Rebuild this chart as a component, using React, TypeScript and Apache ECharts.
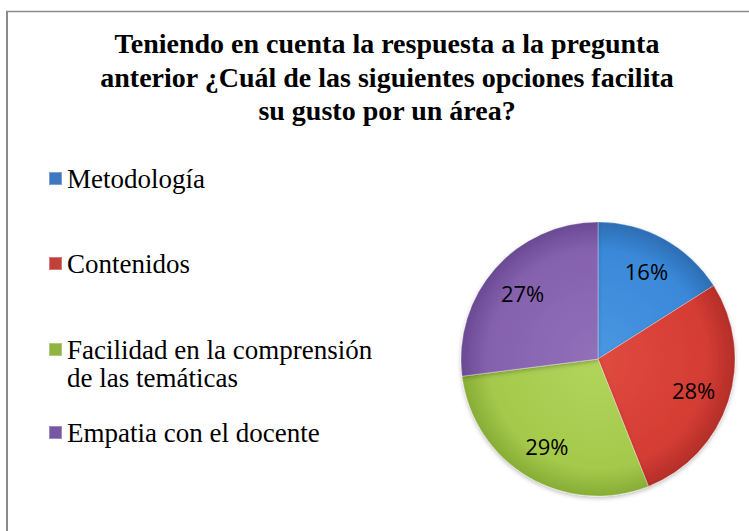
import React, { useEffect, useRef } from 'react';
import * as echarts from 'echarts';

const titleLines = [
  'Teniendo en cuenta la respuesta a la pregunta',
  'anterior ¿Cuál de las siguientes opciones facilita',
  'su gusto por un área?',
];
const categories = ['Metodología', 'Contenidos', 'Facilidad en la comprensión de las temáticas', 'Empatia con el docente'];
const legendLabels = ['Metodología', 'Contenidos', 'Facilidad en la comprensión', 'Empatia con el docente'];
const legendSecondLine = 'de las temáticas';
const values = [16, 28, 29, 27];
const baseColors = ['#3a88d8', '#d43c34', '#a4c94b', '#8561ae'];
const lightColors = ['#4a97e2', '#e04a40', '#b2d45c', '#9270b9'];
const edgeColors = ['#2c6db3', '#b32e28', '#88ad36', '#6a4a93'];
const legendColors = ['#3f78c0', '#c0413c', '#8fb443', '#7657a3'];

const CX = 598;
const CY = 359;
const R = 137;
const SERIF = 'Liberation Serif';

export default function App() {
  const ref = useRef<HTMLDivElement>(null);
  useEffect(() => {
    if (!ref.current) return;
    const chart = echarts.init(ref.current, null, { renderer: 'svg' });
    const grad = (i: number) => ({
      type: 'radial', x: CX, y: CY, r: R, global: true,
      colorStops: [
        { offset: 0, color: lightColors[i] },
        { offset: 0.8, color: baseColors[i] },
        { offset: 1, color: edgeColors[i] },
      ],
    });
    const legendTops = [165, 250, 336, 419];
    const legends = categories.map((name, i) => ({
      orient: 'vertical',
      left: 48,
      top: legendTops[i],
      padding: 0,
      itemWidth: 13,
      itemHeight: 13,
      icon: 'rect',
      selectedMode: false,
      data: [{ name, itemStyle: { color: legendColors[i] } }],
      formatter: () => legendLabels[i],
      textStyle: { fontFamily: SERIF, fontSize: 27, lineHeight: 27, color: '#000' },
    }));
    const titleYs = [57, 91, 124];
    chart.setOption({
      animation: false,
      backgroundColor: '#fff',
      title: [
        {
          text: legendSecondLine,
          left: 67,
          top: 365,
          padding: 0,
          textStyle: { fontFamily: SERIF, fontWeight: 'normal', fontSize: 27, lineHeight: 25, color: '#000' },
        },
      ],
      legend: legends,
      graphic: [
        { type: 'line', shape: { x1: 7, y1: 11, x2: 7, y2: 531 }, style: { stroke: '#8a8a8a', lineWidth: 2 } },
        { type: 'line', shape: { x1: 6, y1: 11.5, x2: 749, y2: 11.5 }, style: { stroke: '#8a8a8a', lineWidth: 1.5 } },
        ...titleLines.map((t, i) => ({
          type: 'text',
          x: 387,
          y: titleYs[i],
          style: {
            text: t,
            font: 'bold 28px Liberation Serif',
            align: 'center',
            verticalAlign: 'bottom',
            fill: '#000',
          },
        })),
      ],
      series: [
        {
          type: 'pie',
          center: [CX, CY],
          radius: [0, R],
          startAngle: 90,
          clockwise: true,
          silent: true,
          label: { show: false },
          labelLine: { show: false },
          itemStyle: { borderColor: 'rgba(255,255,255,0.3)', borderWidth: 1, shadowBlur: 4, shadowColor: 'rgba(0,0,0,0.25)', shadowOffsetY: 2 },
          data: categories.map((name, i) => ({ name, value: values[i], itemStyle: { color: grad(i) } })),
        },
        {
          type: 'pie',
          center: [CX, CY],
          radius: [58, R],
          startAngle: 90,
          clockwise: true,
          silent: true,
          itemStyle: { color: 'rgba(0,0,0,0)' },
          label: {
            show: true,
            position: 'inside',
            formatter: '{c}%',
            fontFamily: 'Open Sans',
            fontSize: 22,
            color: '#000',
          },
          labelLine: { show: false },
          data: categories.map((name, i) => ({ name, value: values[i] })),
        },
      ],
    });
    return () => chart.dispose();
  }, []);
  return <div ref={ref} style={{ position: 'fixed', left: 0, top: 0, width: 749, height: 531 }} />;
}
